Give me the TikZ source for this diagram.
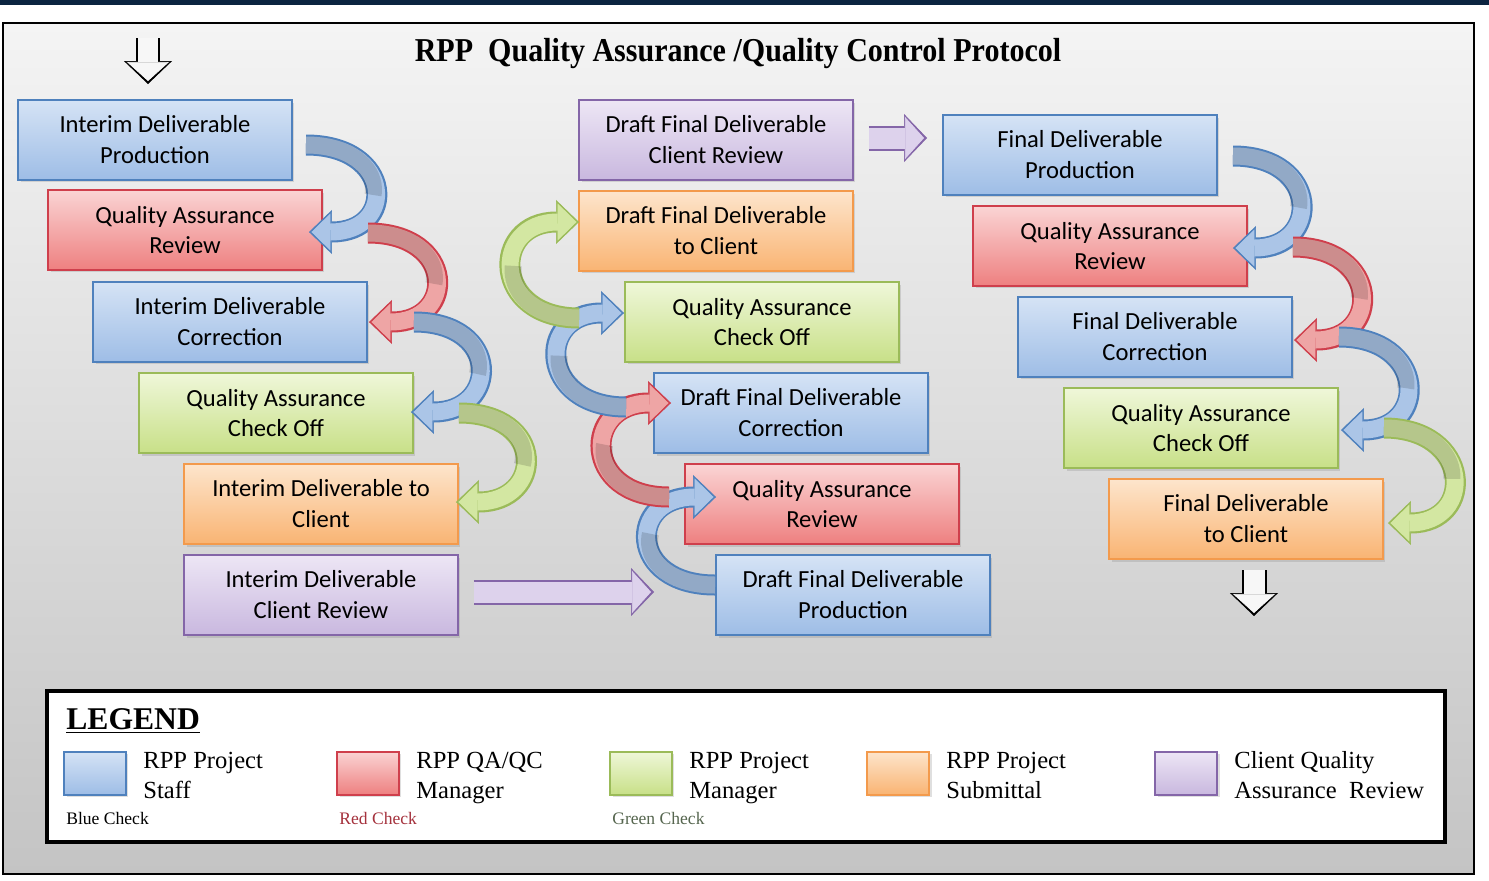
\documentclass[tikz,border=0pt]{standalone}
\usepackage{fontspec}
\setmainfont{Liberation Serif}
\newfontfamily\stagefont{Carlito}
\usepackage{graphicx}
\usetikzlibrary{arrows.meta,calc,shadows,positioning}

\definecolor{navy}{HTML}{0B2440}
\definecolor{bgTop}{HTML}{F4F4F4}
\definecolor{bgBot}{HTML}{C4C4C4}
\definecolor{bluLine}{HTML}{4F81BD}
\definecolor{bluTop}{HTML}{D5E3F5}
\definecolor{bluBot}{HTML}{9EBDE6}
\definecolor{bluRib}{HTML}{ABC5E7}
\definecolor{redLine}{HTML}{CF3F4C}
\definecolor{redTop}{HTML}{FAD4D4}
\definecolor{redBot}{HTML}{EE8080}
\definecolor{redRib}{HTML}{EEA5A5}
\definecolor{grnLine}{HTML}{9BBB59}
\definecolor{grnTop}{HTML}{EFF7D9}
\definecolor{grnBot}{HTML}{C8E088}
\definecolor{grnRib}{HTML}{D3E7A2}
\definecolor{orgLine}{HTML}{F39A4C}
\definecolor{orgTop}{HTML}{FDE5CC}
\definecolor{orgBot}{HTML}{F9B473}
\definecolor{purLine}{HTML}{8466A8}
\definecolor{purTop}{HTML}{EDE6F5}
\definecolor{purBot}{HTML}{C9B8DF}
\definecolor{purRib}{HTML}{DDD2EC}
\definecolor{grnCheck}{HTML}{56664F}

\tikzset{
  stage/.style n args={3}{draw=#1, top color=#2, bottom color=#3, line width=0.04cm,
    minimum width=5.48cm, minimum height=1.6cm, align=center,
    font=\stagefont\fontsize{14}{17.6}\selectfont,
    drop shadow={opacity=0.25, shadow xshift=0.05cm, shadow yshift=-0.05cm}},
  staff/.style={stage={bluLine}{bluTop}{bluBot}},
  qaqc/.style={stage={redLine}{redTop}{redBot}},
  pm/.style={stage={grnLine}{grnTop}{grnBot}},
  submit/.style={stage={orgLine}{orgTop}{orgBot}},
  client/.style={stage={purLine}{purTop}{purBot}},
  rib/.style 2 args={draw=#2, line width=0.34cm, shorten >=0.05cm,
    -{Triangle[length=0.38cm, width=0.74cm, line width=0.4pt]},
    preaction={draw=#1, line width=0.42cm, shorten >=0pt,
      -{Triangle[length=0.46cm, width=0.88cm, line width=0.4pt]}},
    postaction={draw=black, draw opacity=0.14, line width=0.34cm, arrows=-,
      shorten >=0pt, dash pattern=on 1.9cm off 20cm}},
  fat/.style 2 args={draw=#2, line width=0.42cm, shorten >=0.06cm,
    -{Triangle[length=0.38cm, width=0.84cm, line width=0.4pt]},
    preaction={draw=#1, line width=0.5cm, shorten >=0pt,
      -{Triangle[length=0.46cm, width=0.96cm, line width=0.4pt]}}},
  key text/.style={align=left, inner sep=0pt, anchor=north west, font=\fontsize{14}{17}\selectfont}
}

\begin{document}
\begin{tikzpicture}[x=0.02cm, y=-0.02cm]
  \useasboundingbox (0,0) rectangle (1489,880);
  \fill[navy] (0,0) rectangle (1489,5);
  \draw[line width=0.04cm, top color=bgTop, bottom color=bgBot] (3,23) rectangle (1474,874);

  \node[font=\bfseries\fontsize{19}{22}\selectfont] (title) at (738,54)
    {\scalebox{0.9}[1]{RPP\ \ Quality Assurance /Quality Control Protocol}};

  % interim deliverable
  \node[staff]  (idp) at (155,140) {Interim Deliverable\\Production};
  \node[qaqc]   (iqr) at (185,230) {Quality Assurance\\Review};
  \node[staff]  (idc) at (230,322) {Interim Deliverable\\Correction};
  \node[pm]     (ico) at (276,413) {Quality Assurance\\Check Off};
  \node[submit] (idt) at (321,504) {Interim Deliverable to\\Client};
  \node[client] (icr) at (321,595) {Interim Deliverable\\Client Review};

  % draft final deliverable
  \node[client] (dcr) at (716,140) {Draft Final Deliverable\\Client Review};
  \node[submit] (ddt) at (716,231) {Draft Final Deliverable\\to Client};
  \node[pm]     (dco) at (762,322) {Quality Assurance\\Check Off};
  \node[staff]  (ddc) at (791,413) {Draft Final Deliverable\\Correction};
  \node[qaqc]   (dqr) at (822,504) {Quality Assurance\\Review};
  \node[staff]  (ddp) at (853,595) {Draft Final Deliverable\\Production};

  % final deliverable
  \node[staff]  (fdp) at (1080,155) {Final Deliverable\\Production};
  \node[qaqc]   (fqr) at (1110,246) {Quality Assurance\\Review};
  \node[staff]  (fdc) at (1155,337) {Final Deliverable\\Correction};
  \node[pm]     (fco) at (1201,428) {Quality Assurance\\Check Off};
  \node[submit] (fdt) at (1246,519) {Final Deliverable\\to Client};

  \coordinate (entry) at (148,38);
  \draw[fat={black}{white!94!gray}] (entry) -- ($(entry |- idp.north)+(0,-15)$);
  \draw[fat={black}{white!94!gray}] ($(fdt.south)+(8,10)$) -- ($(fdt.south)+(8,56)$);

  \draw[rib={bluLine}{bluRib}] ($(idp.east)+(13,5)$) .. controls +(88,0) and +(88,0) .. ($(iqr.east)+(-14,2)$);
  \draw[rib={redLine}{redRib}] ($(iqr.east)+(45,3)$) .. controls +(88,0) and +(88,0) .. ($(idc.east)+(1,0)$);
  \draw[rib={bluLine}{bluRib}] ($(idc.east)+(46,0)$) .. controls +(88,0) and +(88,0) .. ($(ico.east)+(-3,-1)$);
  \draw[rib={grnLine}{grnRib}] ($(ico.east)+(45,0)$) .. controls +(88,0) and +(88,0) .. ($(idt.east)+(-3,-2)$);

  \draw[rib={bluLine}{bluRib}] ($(ddp.west)+(0,-10)$) .. controls +(-88,0) and +(-88,0) .. ($(dqr.west)+(32,-7)$);
  \draw[rib={redLine}{redRib}] ($(dqr.west)+(-15,-7)$) .. controls +(-88,0) and +(-88,0) .. ($(ddc.west)+(18,-10)$);
  \draw[rib={bluLine}{bluRib}] ($(ddc.west)+(-27,-6)$) .. controls +(-88,0) and +(-88,0) .. ($(dco.west)+(0,-9)$);
  \draw[rib={grnLine}{grnRib}] ($(dco.west)+(-45,-4)$) .. controls +(-88,0) and +(-88,0) .. ($(ddt.west)+(1,-9)$);

  \draw[rib={bluLine}{bluRib}] ($(fdp.east)+(15,1)$) .. controls +(88,0) and +(88,0) .. ($(fqr.east)+(-15,2)$);
  \draw[rib={redLine}{redRib}] ($(fqr.east)+(45,1)$) .. controls +(88,0) and +(88,0) .. ($(fdc.east)+(1,3)$);
  \draw[rib={bluLine}{bluRib}] ($(fdc.east)+(46,0)$) .. controls +(88,0) and +(88,0) .. ($(fco.east)+(2,2)$);
  \draw[rib={grnLine}{grnRib}] ($(fco.east)+(45,0)$) .. controls +(88,0) and +(88,0) .. ($(fdt.east)+(4,4)$);

  \draw[fat={purLine}{purRib}] ($(icr.east)+(15,-3)$) -- ($(ddp.west)+(-61,-3)$);
  \draw[fat={purLine}{purRib}] ($(dcr.east)+(15,-2)$) -- ($(fdp.west)+(-15,-17)$);

  % legend
  \node[draw, line width=0.08cm, fill=white, minimum width=27.96cm, minimum height=3.02cm] (legend) at (746,766.5) {};
  \node[anchor=west, inner sep=0pt, font=\bfseries\fontsize{18}{20}\selectfont] (legendtitle) at (66,721) {\underline{LEGEND}};
  \foreach \sty/\x/\txt in {staff/95/{RPP Project\\Staff}, qaqc/368/{RPP QA/QC\\Manager},
      pm/641/{RPP Project\\Manager}, submit/898/{RPP Project\\Submittal},
      client/1186/{Client Quality\\Assurance\ \ Review}}
    {\node[\sty, minimum width=1.24cm, minimum height=0.86cm] (key-\sty) at (\x,773) {};
     \node[key text] at ($(key-\sty.north east)+(16,1)$) {\txt};}
  \node[anchor=west, inner sep=0pt, font=\fontsize{10}{12}\selectfont] at ($(key-staff.south west)+(3,23)$) {Blue Check};
  \node[anchor=west, inner sep=0pt, font=\fontsize{10}{12}\selectfont, text=redLine!80!black] at ($(key-qaqc.south west)+(3,23)$) {Red Check};
  \node[anchor=west, inner sep=0pt, font=\fontsize{10}{12}\selectfont, text=grnCheck] at ($(key-pm.south west)+(3,23)$) {Green Check};
\end{tikzpicture}
\end{document}
